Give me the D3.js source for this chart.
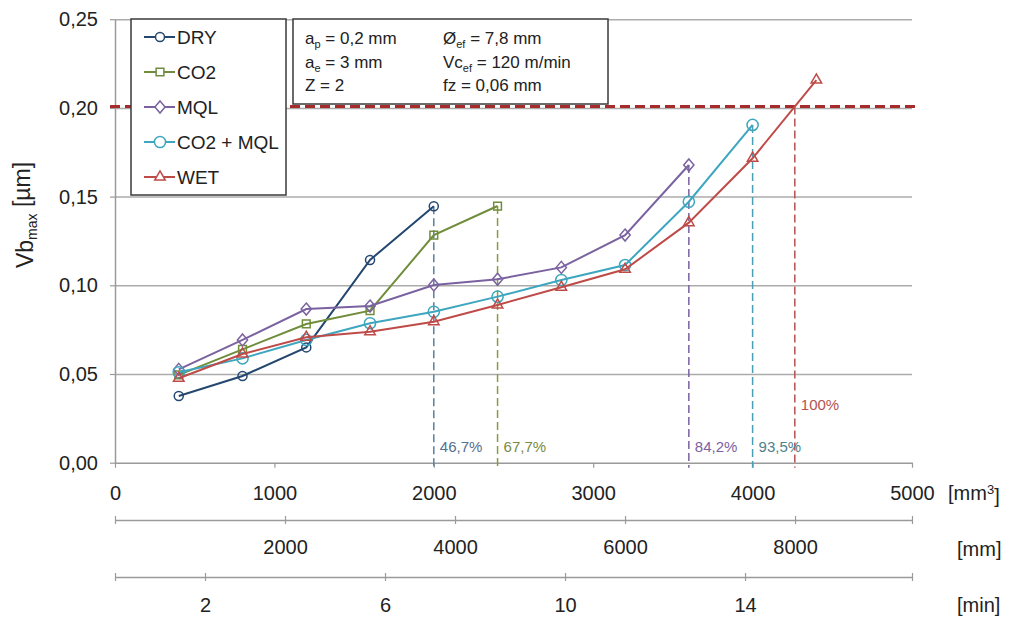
<!DOCTYPE html>
<html>
<head>
<meta charset="utf-8">
<script src="https://cdn.jsdelivr.net/npm/d3@7"></script>
<style>
  body { margin: 0; background: #fff; }
  svg { display: block; font-family: "Liberation Sans", Arial, sans-serif; }
</style>
</head>
<body>
<script>
// removed volume [mm3] at each measuring step
var volume = [400, 800, 1200, 1600, 2000, 2400, 2800, 3200, 3600, 4000, 4400];

var seriesNames = ["DRY", "CO2", "MQL", "CO2 + MQL", "WET"];
var dry = [0.0376, 0.0489, 0.065, 0.1143, 0.1446];
var co2 = [0.0495, 0.0639, 0.0782, 0.0857, 0.1283, 0.1447];
var mql = [0.0526, 0.0692, 0.0866, 0.0883, 0.1002, 0.1034, 0.1101, 0.1283, 0.1678];
var co2Mql = [0.051, 0.0588, 0.0692, 0.0786, 0.0851, 0.0936, 0.103, 0.1114, 0.1471, 0.1904];
var wet = [0.0476, 0.0613, 0.0707, 0.0738, 0.0795, 0.0889, 0.0989, 0.109, 0.1353, 0.1716, 0.2157];

var wearLimit = 0.2008;
var lifeLabels = ["46,7%", "67,7%", "84,2%", "93,5%", "100%"];

var yTicks = [0, 0.05, 0.10, 0.15, 0.20, 0.25];
var xTicks = [0, 1000, 2000, 3000, 4000, 5000];
var mmTicks = [2000, 4000, 6000, 8000];
var minTicks = [2, 6, 10, 14];

var paramsLeft = [["a", "p", " = 0,2 mm"], ["a", "e", " = 3 mm"], ["Z = 2", "", ""]];
var paramsRight = [["Ø", "ef", " = 7,8 mm"], ["Vc", "ef", " = 120 m/min"], ["fz = 0,06 mm", "", ""]];

var colors = ["#24476f", "#6f8d3a", "#7a62a0", "#3ea6bf", "#be4b48"];
var dashColors = ["#5b7fa6", "#8a9a3c", "#7a62a0", "#4a9fb5", "#b5524f"];
var labelColors = ["#52708f", "#7a8a45", "#7a62a0", "#4f7f8c", "#b5524f"];

var diamond = {
  draw: function (ctx, size) {
    var h = Math.sqrt(size) * 0.75;
    var w = h * 0.85;
    ctx.moveTo(0, -h);
    ctx.lineTo(w, 0);
    ctx.lineTo(0, h);
    ctx.lineTo(-w, 0);
    ctx.closePath();
  }
};
var symbols = [
  d3.symbol().type(d3.symbolCircle).size(64),
  d3.symbol().type(d3.symbolSquare).size(60),
  d3.symbol().type(diamond).size(64),
  d3.symbol().type(d3.symbolCircle).size(98),
  d3.symbol().type(d3.symbolTriangle).size(48)
];

var W = 1013, H = 620;
var svg = d3.select("body").append("svg").attr("width", W).attr("height", H);

var xScale = d3.scaleLinear().domain([0, 5000]).range([115, 912]);
var yScale = d3.scaleLinear().domain([0, 0.25]).range([462.7, 19.2]);
var mmScale = d3.scaleLinear().domain([0, 9376]).range([115, 912]);
var minScale = d3.scaleLinear().domain([0, 17.71]).range([115, 912]);

var locale = d3.formatLocale({ decimal: ",", thousands: "", grouping: [3], currency: ["", ""] });
var fmtY = locale.format(".2f");

function styleAxis(g, size) {
  g.select(".domain").attr("stroke", "#9a9a9a").attr("stroke-width", 1.5);
  g.selectAll(".tick line").attr("stroke", "#9a9a9a").attr("stroke-width", 1.2);
  g.selectAll(".tick text").attr("fill", "#222").style("font-size", size + "px")
    .style("font-family", "'Liberation Sans', Arial, sans-serif");
}

// gridlines
svg.append("g")
  .attr("transform", "translate(115,0)")
  .call(d3.axisLeft(yScale).tickValues(yTicks.slice(1)).tickSize(-(xScale(5000) - xScale(0))).tickFormat(""))
  .call(function (g) {
    g.select(".domain").remove();
    g.selectAll(".tick line").attr("stroke", "#ababab").attr("stroke-width", 1.5);
  });

// y axis
var yAxisG = svg.append("g")
  .attr("transform", "translate(115,0)")
  .call(d3.axisLeft(yScale).tickValues(yTicks).tickSize(5).tickSizeOuter(0).tickPadding(12).tickFormat(fmtY));
styleAxis(yAxisG, 20);

// x axis [mm3]
var xAxisG = svg.append("g")
  .attr("transform", "translate(0," + yScale(0) + ")")
  .call(d3.axisBottom(xScale).tickValues(xTicks).tickSize(5).tickSizeOuter(0).tickPadding(18).tickFormat(d3.format("d")));
styleAxis(xAxisG, 20);

function lowerAxis(scale, y, values, pad) {
  var ends = scale.domain();
  var g = svg.append("g")
    .attr("transform", "translate(0," + y + ")")
    .call(d3.axisBottom(scale)
      .tickValues([ends[0]].concat(values, [ends[1]]))
      .tickSize(4).tickSizeOuter(0).tickPadding(pad)
      .tickFormat(function (v) { return values.indexOf(v) >= 0 ? v : ""; }));
  g.selectAll(".tick line").attr("y1", -4);
  styleAxis(g, 20);
}
lowerAxis(mmScale, 520, mmTicks, 16);
lowerAxis(minScale, 577, minTicks, 17);

// unit labels
var units = svg.append("g").attr("fill", "#222").style("font-size", "20px");
var u1 = units.append("text").attr("x", 948).attr("y", 493).attr("dy", "0.35em").text("[mm");
u1.append("tspan").attr("dy", "-0.45em").style("font-size", "13px").text("3");
u1.append("tspan").attr("dy", "0.45em").text("]");
units.append("text").attr("x", 957).attr("y", 549).attr("dy", "0.35em").text("[mm]");
units.append("text").attr("x", 957).attr("y", 605).attr("dy", "0.35em").text("[min]");

// y title
var yt = svg.append("text")
  .attr("transform", "translate(33,215) rotate(-90)")
  .attr("text-anchor", "middle")
  .attr("fill", "#222")
  .style("font-size", "23px");
yt.append("tspan").text("Vb");
yt.append("tspan").attr("dy", "0.3em").style("font-size", "14px").text("max");
yt.append("tspan").attr("dy", "-0.3em").text(" [µm]");

// wear limit line
svg.append("line")
  .attr("x1", xScale(0) - 5).attr("x2", xScale(5000) + 5)
  .attr("y1", yScale(wearLimit)).attr("y2", yScale(wearLimit))
  .attr("stroke", "#a82b2b").attr("stroke-width", 3).attr("stroke-dasharray", "10,5");

var series = [dry, co2, mql, co2Mql, wet].map(function (vals, i) {
  return {
    name: seriesNames[i],
    points: vals.map(function (v, j) { return { x: volume[j], y: v }; })
  };
});

// end of life for each condition (WET: crossing of the wear limit)
var ends = series.map(function (s, i) {
  var p = s.points;
  if (i === 4) {
    for (var k = 1; k < p.length; k++) {
      if (p[k].y >= wearLimit) {
        var t = (wearLimit - p[k - 1].y) / (p[k].y - p[k - 1].y);
        return { x: p[k - 1].x + t * (p[k].x - p[k - 1].x), y: wearLimit };
      }
    }
  }
  return p[p.length - 1];
});

svg.append("g").selectAll("line")
  .data(ends).enter()
  .append("line")
  .attr("x1", function (d) { return xScale(d.x); })
  .attr("x2", function (d) { return xScale(d.x); })
  .attr("y1", function (d) { return yScale(d.y); })
  .attr("y2", yScale(0) + 5)
  .attr("stroke", function (d, i) { return dashColors[i]; })
  .attr("stroke-width", 1.5)
  .attr("stroke-dasharray", "8,4");

svg.append("g").selectAll("text")
  .data(ends).enter()
  .append("text")
  .attr("x", function (d) { return xScale(d.x) + 6; })
  .attr("y", function (d, i) { return i === 4 ? 405 : 447; })
  .attr("dy", "0.35em")
  .attr("fill", function (d, i) { return labelColors[i]; })
  .style("font-size", "15px")
  .text(function (d, i) { return lifeLabels[i]; });

var line = d3.line()
  .x(function (d) { return xScale(d.x); })
  .y(function (d) { return yScale(d.y); });

series.forEach(function (s, i) {
  var g = svg.append("g").attr("class", "series");
  g.append("path")
    .attr("d", line(s.points))
    .attr("fill", "none")
    .attr("stroke", colors[i])
    .attr("stroke-width", 2);
  g.selectAll("path.mark")
    .data(s.points).enter()
    .append("path")
    .attr("class", "mark")
    .attr("transform", function (d) { return "translate(" + xScale(d.x) + "," + yScale(d.y) + ")"; })
    .attr("d", symbols[i])
    .attr("fill", "none")
    .attr("stroke", colors[i])
    .attr("stroke-width", 1.5);
});

// legend
var legend = svg.append("g");
legend.append("rect")
  .attr("x", 131).attr("y", 19).attr("width", 155).attr("height", 176)
  .attr("fill", "#fff").attr("stroke", "#3a3a3a").attr("stroke-width", 1.5);
var items = legend.selectAll("g.item")
  .data(seriesNames).enter()
  .append("g")
  .attr("class", "item")
  .attr("transform", function (d, i) { return "translate(160," + (37 + i * 35) + ")"; });
items.append("line")
  .attr("x1", -16).attr("x2", 15)
  .attr("stroke", function (d, i) { return colors[i]; })
  .attr("stroke-width", 2);
items.append("path")
  .attr("d", function (d, i) { return symbols[i](); })
  .attr("fill", "#fff")
  .attr("stroke", function (d, i) { return colors[i]; })
  .attr("stroke-width", 1.5);
items.append("text")
  .attr("x", 17).attr("dy", "0.35em")
  .attr("fill", "#222")
  .style("font-size", "19px")
  .text(function (d) { return d; });

// cutting parameters
var params = svg.append("g");
params.append("rect")
  .attr("x", 293).attr("y", 19).attr("width", 315).attr("height", 85)
  .attr("fill", "#fff").attr("stroke", "#3a3a3a").attr("stroke-width", 1.5);

function paramText(rows, x) {
  rows.forEach(function (r, i) {
    var t = params.append("text")
      .attr("x", x).attr("y", 44 + i * 23.5)
      .attr("fill", "#222")
      .style("font-size", "17px");
    t.append("tspan").text(r[0]);
    if (r[1]) {
      t.append("tspan").attr("dy", 4).style("font-size", "11px").text(r[1]);
      t.append("tspan").attr("dy", -4).text(r[2]);
    }
  });
}
paramText(paramsLeft, 305);
paramText(paramsRight, 443);
</script>
</body>
</html>
